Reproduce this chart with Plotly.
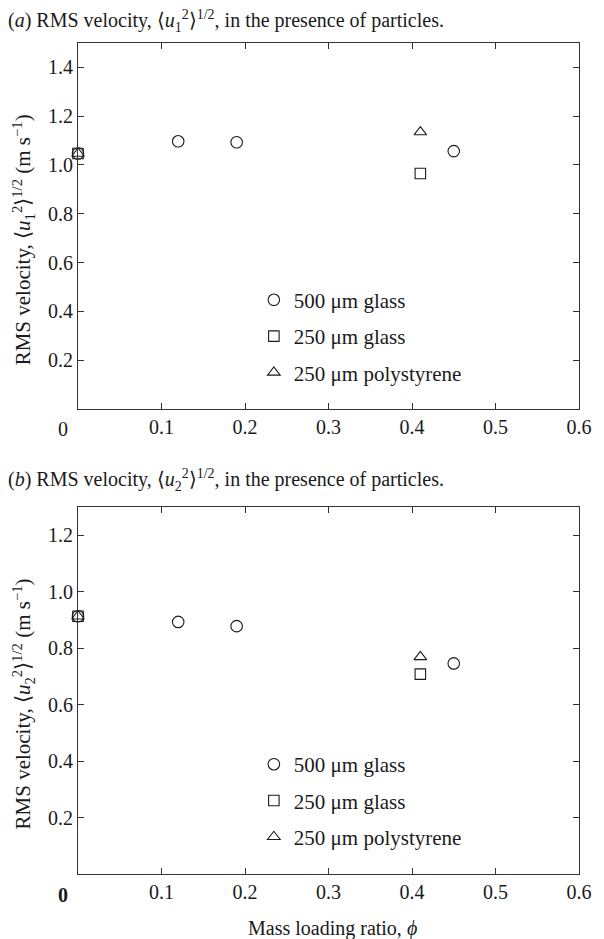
import plotly.graph_objects as go

# ---- data ----
phi_500 = [0.0, 0.12, 0.19, 0.45]
u1_500 = [1.047, 1.097, 1.093, 1.057]
u2_500 = [0.913, 0.893, 0.878, 0.746]

phi_250g = [0.0, 0.41]
u1_250g = [1.047, 0.965]
u2_250g = [0.913, 0.708]

phi_ps = [0.0, 0.41]
u1_ps = [1.047, 1.135]
u2_ps = [0.913, 0.769]

series_names = ["500 μm glass", "250 μm glass", "250 μm polystyrene"]
x_ticks = [0.1, 0.2, 0.3, 0.4, 0.5, 0.6]
y_ticks_a = [0.2, 0.4, 0.6, 0.8, 1.0, 1.2, 1.4]
y_ticks_b = [0.2, 0.4, 0.6, 0.8, 1.0, 1.2]

FONT = "Liberation Serif, Times New Roman, serif"
INK = "#1a1a1a"

fig = go.Figure()

symbols = ["circle-open", "square-open", "triangle-up-open"]
sizes = [11.5, 10.5, 11]
panel_a = [(phi_500, u1_500), (phi_250g, u1_250g), (phi_ps, u1_ps)]
panel_b = [(phi_500, u2_500), (phi_250g, u2_250g), (phi_ps, u2_ps)]

for i, (xs, ys) in enumerate(panel_a):
    fig.add_trace(go.Scatter(
        x=xs, y=ys, mode="markers", name=series_names[i],
        marker=dict(symbol=symbols[i], size=sizes[i], color=INK, line=dict(width=1.1, color=INK)),
        xaxis="x", yaxis="y", legend="legend", legendgroup=f"a{i}", cliponaxis=False))
for i, (xs, ys) in enumerate(panel_b):
    fig.add_trace(go.Scatter(
        x=xs, y=ys, mode="markers", name=series_names[i],
        marker=dict(symbol=symbols[i], size=sizes[i], color=INK, line=dict(width=1.1, color=INK)),
        xaxis="x2", yaxis="y2", legend="legend2", legendgroup=f"b{i}", cliponaxis=False))

axis_common = dict(showline=True, linecolor="#333333", linewidth=1, mirror="ticks",
                   ticks="inside", ticklen=6, tickcolor="#333333", tickwidth=1,
                   showgrid=False, zeroline=False,
                   tickfont=dict(family=FONT, size=20, color=INK))

legend_common = dict(xanchor="left", yanchor="top", bgcolor="rgba(0,0,0,0)",
                     font=dict(family=FONT, size=21, color=INK), tracegroupgap=6, itemwidth=30)

fig.update_layout(
    width=596, height=931,
    margin=dict(l=70, r=16, t=35, b=65),
    paper_bgcolor="white", plot_bgcolor="white",
    font=dict(family=FONT, size=20, color=INK),
    xaxis=dict(domain=[0, 1], range=[0, 0.6], tickvals=x_ticks, anchor="y", **axis_common),
    yaxis=dict(domain=[0.5596, 1.0], range=[0, 1.5], tickvals=y_ticks_a, tickformat=".1f",
               anchor="x", **axis_common),
    xaxis2=dict(domain=[0, 1], range=[0, 0.6], tickvals=x_ticks, anchor="y2", **axis_common),
    yaxis2=dict(domain=[0.0, 0.4416], range=[0, 1.3], tickvals=y_ticks_b, tickformat=".1f",
                anchor="x2", **axis_common),
    legend=dict(x=0.351, y=0.7152, **legend_common),
    legend2=dict(x=0.351, y=0.1564, **legend_common),
    showlegend=True,
)

ytitle1 = "RMS velocity, ⟨<i>u</i><sub>1</sub><sup>2</sup>⟩<sup>1/2</sup> (m s<sup>−1</sup>)"
ytitle2 = "RMS velocity, ⟨<i>u</i><sub>2</sub><sup>2</sup>⟩<sup>1/2</sup> (m s<sup>−1</sup>)"
tfont = dict(family=FONT, size=20, color=INK)

annotations = [
    dict(text="(<i>a</i>) RMS velocity, ⟨<i>u</i><sub>1</sub><sup>2</sup>⟩<sup>1/2</sup>, in the presence of particles.",
         xref="paper", yref="paper", x=-0.143, y=1.0265, xanchor="left", yanchor="middle",
         showarrow=False, font=tfont),
    dict(text="(<i>b</i>) RMS velocity, ⟨<i>u</i><sub>2</sub><sup>2</sup>⟩<sup>1/2</sup>, in the presence of particles.",
         xref="paper", yref="paper", x=-0.143, y=0.4741, xanchor="left", yanchor="middle",
         showarrow=False, font=tfont),
    dict(text=ytitle1, xref="paper", yref="paper", x=-0.1088, y=0.7631, textangle=-90,
         xanchor="center", yanchor="middle", showarrow=False, font=dict(family=FONT, size=21, color=INK)),
    dict(text=ytitle2, xref="paper", yref="paper", x=-0.1088, y=0.2046, textangle=-90,
         xanchor="center", yanchor="middle", showarrow=False, font=dict(family=FONT, size=21, color=INK)),
    dict(text="0", xref="paper", yref="y domain", x=-0.0294, y=0, yshift=-20, xanchor="center",
         yanchor="middle", showarrow=False, font=tfont),
    dict(text="<b>0</b>", xref="paper", yref="y2 domain", x=-0.0294, y=0, yshift=-21, xanchor="center",
         yanchor="middle", showarrow=False, font=tfont),
    dict(text="Mass loading ratio, <i>ϕ</i>", xref="paper", yref="paper", x=0.5088, y=-0.065,
         xanchor="center", yanchor="middle", showarrow=False, font=tfont),
]
fig.update_layout(annotations=annotations)

fig.write_html("out.html")
